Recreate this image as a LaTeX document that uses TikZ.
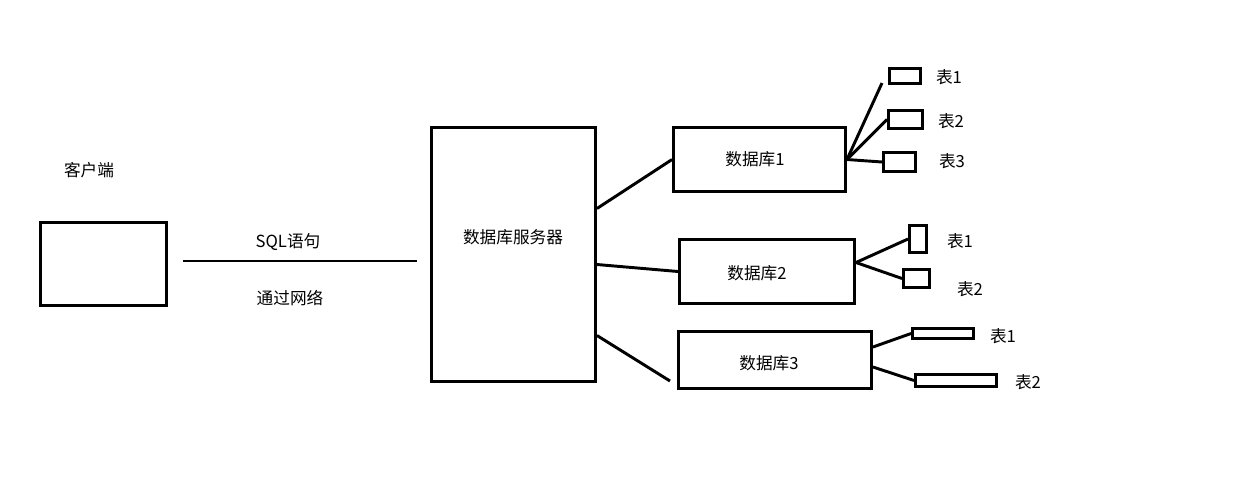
\documentclass[tikz,border=0pt]{standalone}
\usepackage{fontspec}
\setmainfont{Noto Sans CJK SC}
\usetikzlibrary{positioning, calc}

\begin{document}
\begin{tikzpicture}[x=0.75pt, y=-0.75pt, line width=2.2pt]
        % Styles
        \tikzstyle{box} = [draw, rectangle, inner sep=0pt, align=center, font=\fontsize{12.5}{15}\selectfont]
        \tikzstyle{tbl} = [draw, rectangle, inner sep=0pt]
        \tikzstyle{lbl} = [inner sep=0pt, font=\fontsize{12.5}{15}\selectfont]

        \useasboundingbox (0,0) rectangle (1234,494);

        % Client and server
        \node[box, minimum width=94.5pt, minimum height=62.25pt] (client) at (103.5,264) {};
        \node[lbl] (clientlabel) at (89,170) {客户端};
        \node[box, minimum width=123pt, minimum height=190.5pt] (server) at (513.5,254.5) {};
        \node[lbl] (serverlabel) at (513,237) {数据库服务器};
        \node[lbl] (sql) at (288,242) {SQL语句};
        \node[lbl] (net) at (290,298) {通过网络};

        % Databases
        \node[box, minimum width=129pt, minimum height=48pt] (db1) at (759.5,159.5) {};
        \node[box, minimum width=131.25pt, minimum height=48pt] (db2) at (767,271.5) {};
        \node[box, minimum width=144.75pt, minimum height=42.75pt] (db3) at (775,360) {};
        \node[lbl] (db1label) at (755,159) {数据库1};
        \node[lbl] (db2label) at (757,273) {数据库2};
        \node[lbl] (db3label) at (769,363) {数据库3};

        % Tables
        \node[tbl, minimum width=23.25pt, minimum height=11.25pt] (t11) at (905,76) {};
        \node[tbl, minimum width=25.5pt, minimum height=13.5pt] (t12) at (905.5,119.5) {};
        \node[tbl, minimum width=24pt, minimum height=14.25pt] (t13) at (899.5,162) {};
        \node[tbl, minimum width=12.75pt, minimum height=20.25pt] (t21) at (918,239) {};
        \node[tbl, minimum width=19.5pt, minimum height=13.5pt] (t22) at (916.5,278.5) {};
        \node[tbl, minimum width=45.75pt, minimum height=7.5pt] (t31) at (943,333.5) {};
        \node[tbl, minimum width=60.75pt, minimum height=9pt] (t32) at (956,380.5) {};

        \node[lbl] (t11label) at (949,77) {表1};
        \node[lbl] (t12label) at (951,121) {表2};
        \node[lbl] (t13label) at (952,161) {表3};
        \node[lbl] (t21label) at (960,241) {表1};
        \node[lbl] (t22label) at (970,289) {表2};
        \node[lbl] (t31label) at (1003,336) {表1};
        \node[lbl] (t32label) at (1028,382) {表2};

        \coordinate (t11end) at (882,83);
        \coordinate (db3end) at (670,381);

        % Paths
        \draw[shorten <=11pt, shorten >=10pt] ([yshift=2.25pt]client.east) -- ([yshift=2.25pt]client.east -| server.west);
        \draw ($(server.east)+(0,-46)$) -- (db1.west);
        \draw ($(server.east)+(0,10)$) -- (db2.west);
        \draw ($(server.east)+(0,81)$) -- (db3end);

        \draw (db1.east) -- (t11end);
        \draw (db1.east) -- (t12.west);
        \draw (db1.east) -- (t13.west);
        \draw ($(db2.east)+(0,-9)$) -- (t21.west);
        \draw ($(db2.east)+(0,-9)$) -- (t22.west);
        \draw ($(db3.east)+(0,-13)$) -- (t31.west);
        \draw ($(db3.east)+(0,7)$) -- (t32.west);
\end{tikzpicture}
\end{document}
